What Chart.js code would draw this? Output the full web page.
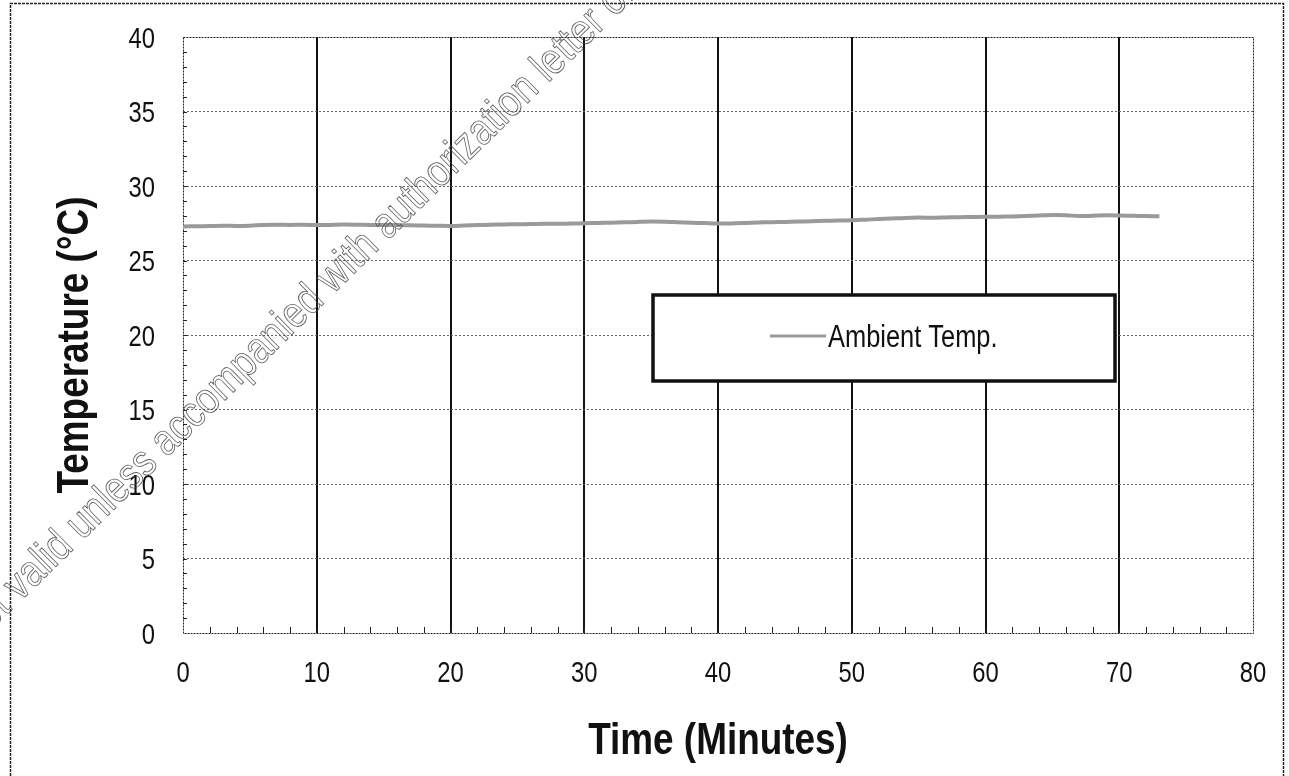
<!DOCTYPE html>
<html>
<head>
<meta charset="utf-8">
<title>Ambient Temperature</title>
<script src="https://cdn.jsdelivr.net/npm/chart.js@4.4.1/dist/chart.umd.min.js"></script>
<style>
  html, body { margin: 0; padding: 0; background: #fff; }
  #wrap { width: 1289px; height: 776px; }
</style>
</head>
<body>
<div id="wrap"><canvas id="tempChart" width="1289" height="776"></canvas></div>
<script>
const FONT = "'Liberation Sans', Arial, sans-serif";
const SQUEEZE = 0.82; // narrow look for all lettering

// logged readings, one per minute
const minutes = [
  0, 1, 2, 3, 4, 5, 6, 7, 8, 9,
  10, 11, 12, 13, 14, 15, 16, 17, 18, 19,
  20, 21, 22, 23, 24, 25, 26, 27, 28, 29,
  30, 31, 32, 33, 34, 35, 36, 37, 38, 39,
  40, 41, 42, 43, 44, 45, 46, 47, 48, 49,
  50, 51, 52, 53, 54, 55, 56, 57, 58, 59,
  60, 61, 62, 63, 64, 65, 66, 67, 68, 69,
  70, 71, 72, 73
];
const ambientTemp = [
  27.28, 27.30, 27.31, 27.33, 27.32, 27.34, 27.38, 27.40, 27.39, 27.40,
  27.38, 27.39, 27.41, 27.40, 27.38, 27.39, 27.38, 27.36, 27.35, 27.33,
  27.32, 27.35, 27.38, 27.40, 27.42, 27.43, 27.45, 27.47, 27.46, 27.48,
  27.50, 27.52, 27.54, 27.56, 27.59, 27.61, 27.60, 27.57, 27.54, 27.51,
  27.48, 27.49, 27.52, 27.55, 27.57, 27.59, 27.61, 27.63, 27.66, 27.68,
  27.70, 27.74, 27.78, 27.82, 27.86, 27.88, 27.87, 27.89, 27.91, 27.92,
  27.93, 27.94, 27.96, 27.99, 28.02, 28.05, 28.04, 27.98, 28.00, 28.03,
  28.02, 28.00, 27.98, 27.97
];

const xTicks = [0, 10, 20, 30, 40, 50, 60, 70, 80];
const yTicks = [0, 5, 10, 15, 20, 25, 30, 35, 40];
const xMinorStep = 2;
const yMinorStep = 1;

const seriesLabel = 'Ambient Temp.';
const xTitle = 'Time (Minutes)';
const yTitle = 'Temperature (°C)';
const stampLead = 'Not ';
const stampText = 'valid unless accompanied with authorization letter of';

// write text squeezed horizontally around its anchor point
function narrowText(ctx, text, x, y, font, align, rotate) {
  ctx.save();
  ctx.translate(x, y);
  if (rotate) ctx.rotate(rotate);
  ctx.scale(SQUEEZE, 1);
  ctx.font = font;
  ctx.textAlign = align;
  ctx.fillText(text, 0, 0);
  ctx.restore();
}

// page border, plot frame and the small minor tick marks
const framePlugin = {
  id: 'framePlugin',
  beforeDraw(chart) {
    const { ctx, width, height } = chart;
    ctx.save();
    ctx.fillStyle = '#fff';
    ctx.fillRect(0, 0, width, height);
    ctx.strokeStyle = '#222';
    ctx.lineWidth = 1.5;
    ctx.setLineDash([3, 1]);
    ctx.beginPath();
    ctx.moveTo(10.5, height);
    ctx.lineTo(10.5, 3.5);
    ctx.lineTo(1283.5, 3.5);
    ctx.lineTo(1283.5, height);
    ctx.stroke();
    ctx.restore();
  },
  beforeDatasetsDraw(chart) {
    const { ctx, chartArea: a, scales: { x, y } } = chart;
    ctx.save();
    ctx.strokeStyle = '#222';
    ctx.lineWidth = 1;
    ctx.setLineDash([2, 1]);
    ctx.strokeRect(a.left + 0.5, a.top + 0.5, a.right - a.left, a.bottom - a.top);
    ctx.setLineDash([]);
    ctx.beginPath();
    for (let v = x.min + xMinorStep; v < x.max; v += xMinorStep) {
      const px = Math.round(x.getPixelForValue(v)) + 0.5;
      ctx.moveTo(px, a.bottom);
      ctx.lineTo(px, a.bottom - 6);
    }
    for (let v = y.min + yMinorStep; v < y.max; v += yMinorStep) {
      const py = Math.round(y.getPixelForValue(v)) + 0.5;
      ctx.moveTo(a.left, py);
      ctx.lineTo(a.left + 4, py);
    }
    ctx.stroke();
    ctx.restore();
  }
};

// tick labels and axis titles in a narrow face
const axisText = {
  id: 'axisText',
  afterDraw(chart) {
    const { ctx, chartArea: a, scales: { x, y } } = chart;
    ctx.save();
    ctx.fillStyle = '#111';
    const tickFont = '29px ' + FONT;
    x.ticks.forEach(t => {
      narrowText(ctx, String(t.value), x.getPixelForValue(t.value), 682, tickFont, 'center');
    });
    y.ticks.forEach(t => {
      narrowText(ctx, String(t.value), a.left - 28, y.getPixelForValue(t.value) + 10.5, tickFont, 'right');
    });
    const titleFont = 'bold 45px ' + FONT;
    narrowText(ctx, xTitle, (a.left + a.right) / 2, 754, titleFont, 'center');
    ctx.textBaseline = 'middle';
    narrowText(ctx, yTitle, 76, 345, titleFont, 'center', -Math.PI / 2);
    ctx.restore();
  }
};

// boxed legend sitting inside the plot
const boxLegend = {
  id: 'boxLegend',
  afterDatasetsDraw(chart) {
    const { ctx } = chart;
    const ds = chart.data.datasets[0];
    const bx = 653, by = 295, bw = 462, bh = 86;
    ctx.save();
    ctx.fillStyle = '#fff';
    ctx.fillRect(bx, by, bw, bh);
    ctx.strokeStyle = '#111';
    ctx.lineWidth = 3.5;
    ctx.strokeRect(bx, by, bw, bh);
    const cy = by + bh / 2 - 2;
    ctx.strokeStyle = ds.borderColor;
    ctx.lineWidth = 3;
    ctx.beginPath();
    ctx.moveTo(770, cy);
    ctx.lineTo(826, cy);
    ctx.stroke();
    ctx.fillStyle = '#111';
    ctx.textBaseline = 'alphabetic';
    narrowText(ctx, ds.label, 828, cy + 11, '31px ' + FONT, 'left');
    ctx.restore();
  }
};

// diagonal outlined stamp text across the upper left
const stampPlugin = {
  id: 'stampPlugin',
  afterDraw(chart) {
    const { ctx } = chart;
    const ang = -44.5 * Math.PI / 180;
    const sx = 0.85;
    ctx.save();
    ctx.font = '44px ' + FONT;
    const lead = ctx.measureText(stampLead).width * sx;
    // the "v" of "valid" sits near the lower left corner
    ctx.translate(20 - lead * Math.cos(ang), 602 - lead * Math.sin(ang));
    ctx.rotate(ang);
    ctx.scale(sx, 1);
    ctx.strokeStyle = 'rgba(70,70,70,0.85)';
    ctx.lineWidth = 0.9;
    ctx.strokeText(stampLead + stampText, 0, 0);
    ctx.restore();
  }
};

const ctx = document.getElementById('tempChart').getContext('2d');
const tempChart = new Chart(ctx, {
  type: 'line',
  data: {
    datasets: [{
      label: seriesLabel,
      data: minutes.map((m, i) => ({ x: m, y: ambientTemp[i] })),
      borderColor: '#9a9a9a',
      borderWidth: 4,
      pointRadius: 0,
      tension: 0.3,
      fill: false,
    }]
  },
  options: {
    responsive: false,
    animation: false,
    layout: { padding: { left: 10, top: 37, right: 36, bottom: 0 } },
    plugins: {
      legend: { display: false },
      tooltip: { enabled: false },
    },
    scales: {
      x: {
        type: 'linear',
        min: 0,
        max: 80,
        afterBuildTicks: s => { s.ticks = xTicks.map(v => ({ value: v })); },
        afterFit: s => { s.height = 143; },
        grid: {
          color: c => (c.tick && (c.tick.value === 0 || c.tick.value === 80)) ? 'rgba(0,0,0,0)' : '#111',
          lineWidth: 2,
          drawTicks: false,
        },
        border: { display: false },
        ticks: { display: false },
      },
      y: {
        min: 0,
        max: 40,
        afterBuildTicks: s => { s.ticks = yTicks.map(v => ({ value: v })); },
        afterFit: s => { s.width = 173; },
        grid: {
          color: c => (c.tick && (c.tick.value === 0 || c.tick.value === 40)) ? 'rgba(0,0,0,0)' : '#666',
          lineWidth: 1,
          drawTicks: false,
        },
        border: { display: false, dash: [2, 2] },
        ticks: { display: false },
      },
    },
  },
  plugins: [framePlugin, boxLegend, axisText, stampPlugin],
});
</script>
</body>
</html>
